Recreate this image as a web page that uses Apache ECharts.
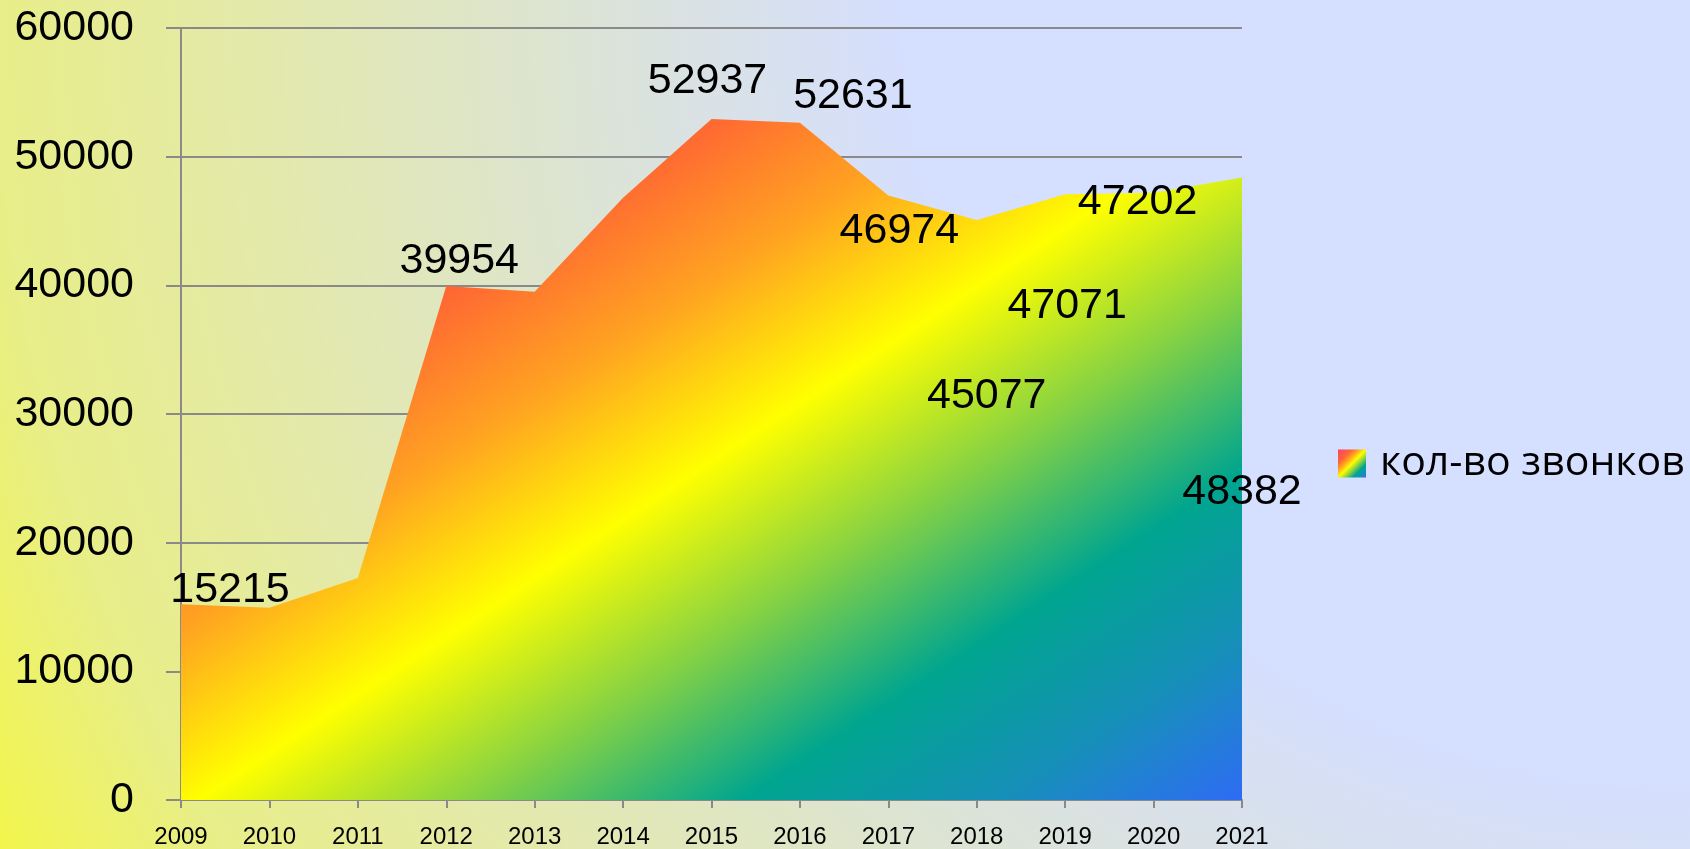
<!DOCTYPE html>
<html>
<head>
<meta charset="utf-8">
<script src="https://cdn.jsdelivr.net/npm/echarts@6/dist/echarts.min.js"></script>
<style>
  html, body { margin: 0; padding: 0; }
  #calls { width: 1690px; height: 849px; }
</style>
</head>
<body>
<div id="calls"></div>
<script>
// годы и количество звонков
const years = ['2009', '2010', '2011', '2012', '2013', '2014', '2015', '2016', '2017', '2018', '2019', '2020', '2021'];
const calls = [15215, 14950, 17260, 39954, 39510, 46800, 52937, 52631, 46974, 45077, 47071, 47202, 48382];
// подписи есть не у всех точек
const showLabel = [true, false, false, true, false, false, true, true, true, true, true, true, true];
const labelShift = [[49, -14], [0, 0], [0, 0], [13, -25], [0, 0], [0, 0], [-4, -38], [53, -27], [11, 36], [10, 176], [2, 112], [-16, 9], [0, 315]];
const yTicks = [0, 10000, 20000, 30000, 40000, 50000, 60000];

const stops = [
  { offset: 0, color: '#ff3d6e' },
  { offset: 0.25, color: '#ff6633' },
  { offset: 0.37, color: '#ffa321' },
  { offset: 0.5, color: '#ffff00' },
  { offset: 0.63, color: '#86d243' },
  { offset: 0.76, color: '#00a58f' },
  { offset: 0.88, color: '#1690b8' },
  { offset: 1, color: '#2f6bf6' }
];
// заливка области - в пикселях, полосы идут под углом как в оригинале
const areaFill = { type: 'linear', x: 181, y: 119, x2: 817, y2: 1083, global: true, colorStops: stops };
const iconFill = new echarts.graphic.LinearGradient(0, 0, 1, 1, stops);

const chartDom = document.getElementById('calls');
let myChart = echarts.init(chartDom);
let option = {
  backgroundColor: {
    type: 'radial', x: 1690, y: 0, r: 1950, global: true,
    colorStops: [
      { offset: 0, color: '#d5dfff' },
      { offset: 0.40, color: '#d5dfff' },
      { offset: 0.52, color: '#dae2e2' },
      { offset: 0.70, color: '#e2e8b4' },
      { offset: 0.87, color: '#e8ee88' },
      { offset: 1, color: '#f6f83a' }
    ]
  },
  animation: false,
  grid: { left: 181, right: 448, top: 28, bottom: 47 },
  legend: {
    orient: 'vertical',
    left: 1333,
    top: 438,
    icon: 'rect',
    itemWidth: 28,
    itemHeight: 28,
    textStyle: { fontFamily: 'Open Sans', fontSize: 41, color: '#000', padding: [0, 0, 0, 9] },
    data: [{ name: 'кол-во звонков', itemStyle: { color: iconFill } }]
  },
  xAxis: {
    type: 'category',
    data: years,
    boundaryGap: false,
    axisLine: { lineStyle: { color: '#8a8a8a', width: 2 } },
    axisTick: { length: 8, lineStyle: { color: '#8a8a8a', width: 2 } },
    axisLabel: { interval: 0, margin: 25, fontFamily: 'Liberation Sans', fontSize: 24, color: '#000' }
  },
  yAxis: {
    type: 'value',
    min: 0,
    max: 60000,
    interval: 10000,
    axisLine: { show: true, lineStyle: { color: '#8a8a8a', width: 2 } },
    axisTick: { show: true, length: 15, lineStyle: { color: '#8a8a8a', width: 2 } },
    splitLine: { lineStyle: { color: '#8a8a8a', width: 2 } },
    axisLabel: {
      margin: 47, fontFamily: 'Liberation Sans', fontSize: 43, color: '#000',
      formatter: v => yTicks.includes(v) ? String(v) : ''
    }
  },
  series: [{
    name: 'кол-во звонков',
    type: 'line',
    data: calls.map((v, i) => ({
      value: v,
      label: { show: showLabel[i], offset: labelShift[i] }
    })),
    symbol: 'circle',
    symbolSize: 0,
    lineStyle: { width: 0 },
    itemStyle: { color: iconFill },
    areaStyle: { color: areaFill, opacity: 1 },
    label: {
      position: 'inside',
      fontFamily: 'Liberation Sans',
      fontSize: 43,
      color: '#000'
    }
  }]
};
option && myChart.setOption(option);
</script>
</body>
</html>
